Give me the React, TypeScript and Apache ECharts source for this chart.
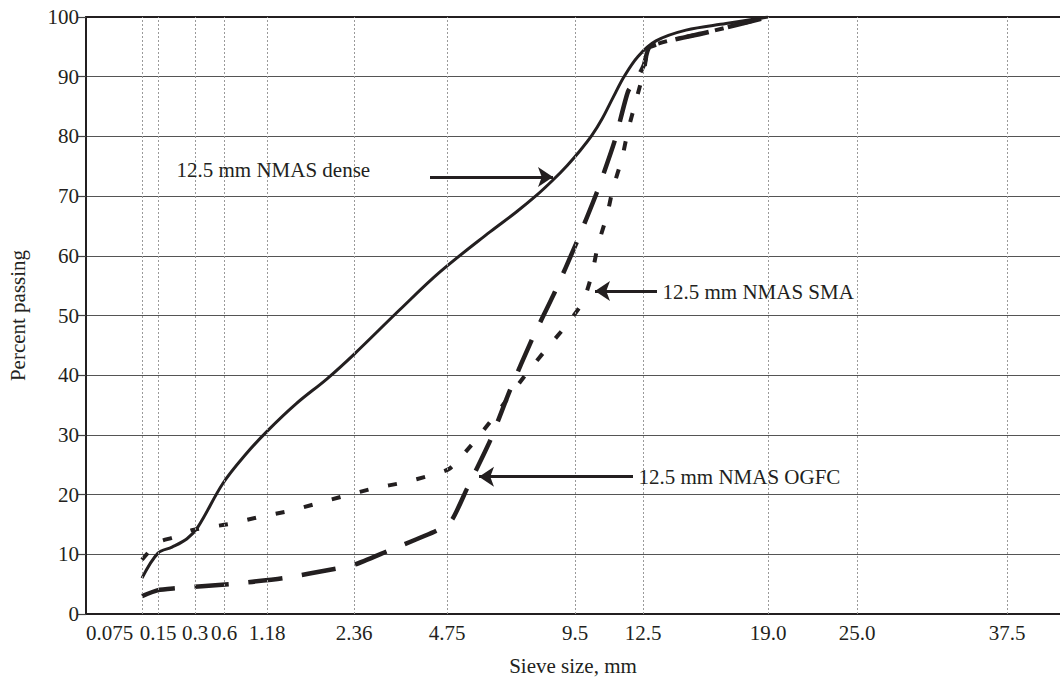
import React, { useEffect, useRef } from "react";
import * as echarts from "echarts";

// Sieve sizes and their positions along the (hand-drawn, roughly 0.45-power) x axis
const sieveLabels = ["0.075", "0.15", "0.3", "0.6", "1.18", "2.36", "4.75", "9.5", "12.5", "19.0", "25.0", "37.5"];
const sievePositions = [56, 72, 109, 138, 181, 268, 361, 489, 557, 682, 771, 921];
const labelPositions = [23.5, 72, 109, 138, 181, 268, 361, 489, 557, 682, 771, 921];
const yTicks = [0, 10, 20, 30, 40, 50, 60, 70, 80, 90, 100];

// Gradation curves: [x position, percent passing]
const denseCurve = [
  [56, 6], [72, 10.2], [86, 11.2], [101, 12.6], [112, 14.6], [137, 21.9], [160, 26.8], [181, 30.6],
  [210, 35.2], [241, 39.4], [268, 43.5], [314, 51], [354, 57.3], [404, 64], [430, 67.3], [451, 70.2],
  [467, 72.7], [481, 75.1], [494, 77.6], [506, 80.2], [516, 82.9], [527, 86.5], [538, 90], [552, 93.4],
  [570, 96], [600, 97.8], [640, 98.9], [682, 100],
];
const smaCurve = [
  [56, 9.1], [72, 12], [87, 12.8], [107, 14.1], [144, 15.1], [172, 16.2], [202, 17.2], [231, 18.5],
  [259, 19.8], [289, 21.1], [317, 22], [344, 23.2], [364, 24.4], [389, 29], [407, 32.8],
  [442, 40.6], [461, 44.5], [479, 48.1], [497, 52.3], [506, 57], [512, 61.8], [521, 66.8], [527, 71.3],
  [536, 76.3], [542, 81], [550, 86], [558, 91], [564, 95], [623, 97.5], [682, 100],
];
const ogfcCurve = [
  [56, 3], [72, 4], [89, 4.3], [143, 5], [197, 6], [250, 7.6], [269, 8.3], [301, 10.5], [351, 14],
  [366, 15.8], [381, 21], [404, 29], [424, 37.5], [446, 46], [469, 54], [490, 62], [511, 70.7],
  [529, 79.4], [542, 87.5], [552, 90], [558, 92], [564, 95], [623, 97.5], [682, 100],
];

// Annotations
const annotationTexts = ["12.5 mm NMAS dense", "12.5 mm NMAS SMA", "12.5 mm NMAS OGFC"];
const annotationTextAt = [[90, 74.3], [576, 54.0], [552, 23.0]];
const arrowFrom = [[344, 73.2], [571, 54.1], [547, 23.0]];
const arrowTo = [[467, 73.2], [509, 54.1], [393, 23.0]];

const INK = "#231f20";
const FONT = "'Liberation Serif', 'Times New Roman', serif";

export default function App() {
  const ref = useRef<HTMLDivElement>(null);

  useEffect(() => {
    if (!ref.current) return;
    const chart = echarts.init(ref.current, null, { renderer: "svg" });

    const option: any = {
      animation: false,
      backgroundColor: "#ffffff",
      textStyle: { fontFamily: FONT, color: INK },
      grid: { left: 86, right: 0, top: 17, bottom: 64, containLabel: false, outerBoundsMode: "none" },
      xAxis: [
        {
          type: "value",
          min: 0,
          max: 974,
          name: "Sieve size, mm",
          nameLocation: "middle",
          nameGap: 41,
          nameMoveOverlap: false,
          nameTextStyle: { fontFamily: FONT, fontSize: 21, color: INK },
          axisLine: { show: true, onZero: false, lineStyle: { color: INK, width: 2 } },
          axisTick: { show: false },
          splitLine: { show: false },
          axisLabel: {
            customValues: labelPositions,
            interval: 0,
            hideOverlap: false,
            margin: 8,
            fontFamily: FONT,
            fontSize: 21,
            color: INK,
            formatter: (v: number) => {
              const i = labelPositions.findIndex((p) => Math.abs(p - v) < 0.01);
              return i >= 0 ? sieveLabels[i] : "";
            },
          },
        },
        {
          type: "value",
          position: "top",
          min: 0,
          max: 974,
          axisLine: { show: true, onZero: false, lineStyle: { color: INK, width: 2 } },
          axisTick: { show: false },
          axisLabel: { show: false },
          splitLine: { show: false },
        },
      ],
      yAxis: {
        type: "value",
        min: 0,
        max: 100,
        interval: 10,
        name: "Percent passing",
        nameLocation: "middle",
        nameGap: 58,
        nameMoveOverlap: false,
        nameTextStyle: { fontFamily: FONT, fontSize: 21, color: INK },
        axisLine: { show: true, lineStyle: { color: INK, width: 2 } },
        axisTick: { show: true, inside: false, length: 8, lineStyle: { color: "#444", width: 1.2 } },
        axisLabel: {
          customValues: yTicks,
          margin: 7,
          fontFamily: FONT,
          fontSize: 21,
          color: INK,
        },
        splitLine: { show: true, lineStyle: { color: "#555", width: 1.2 } },
      },
      series: [
        {
          name: "grid",
          type: "line",
          data: [],
          z: 1,
          silent: true,
          markLine: {
            silent: true,
            symbol: ["none", "none"],
            label: { show: false },
            lineStyle: { color: "#9a9a9a", width: 1, type: [2, 2] },
            emphasis: { disabled: true },
            data: sievePositions.map((p) => ({ xAxis: p })),
          },
        },
        {
          name: "12.5 mm NMAS dense",
          type: "line",
          data: denseCurve,
          z: 3,
          smooth: 0.35,
          showSymbol: false,
          symbol: "none",
          lineStyle: { color: INK, width: 3 },
        },
        {
          name: "12.5 mm NMAS SMA",
          type: "line",
          data: smaCurve,
          z: 3,
          smooth: 0.2,
          showSymbol: false,
          symbol: "none",
          lineStyle: { color: INK, width: 4, type: [9, 20], cap: "butt" },
        },
        {
          name: "12.5 mm NMAS OGFC",
          type: "line",
          data: ogfcCurve,
          z: 4,
          smooth: 0.2,
          showSymbol: false,
          symbol: "none",
          lineStyle: { color: INK, width: 4.5, type: [34, 20], cap: "butt" },
        },
        {
          name: "annotations",
          type: "line",
          data: [],
          z: 5,
          silent: true,
          markLine: {
            silent: true,
            symbol: ["none", "arrow"],
            symbolSize: 15,
            label: { show: false },
            emphasis: { disabled: true },
            lineStyle: { color: INK, width: 2.8, type: "solid" },
            data: arrowFrom.map((f, i) => [
              { coord: f, symbol: "none" },
              { coord: arrowTo[i], symbol: "arrow", symbolSize: 15 },
            ]),
          },
          markPoint: {
            silent: true,
            symbol: "circle",
            symbolSize: 1,
            itemStyle: { color: "rgba(0,0,0,0)" },
            emphasis: { disabled: true },
            label: {
              show: true,
              position: "right",
              distance: 0,
              fontFamily: FONT,
              fontSize: 21,
              color: INK,
            },
            data: annotationTexts.map((t, i) => ({
              coord: annotationTextAt[i],
              value: t,
              label: { formatter: t },
            })),
          },
        },
      ],
    };

    chart.setOption(option);
    return () => chart.dispose();
  }, []);

  return (
    <div
      ref={ref}
      style={{ position: "fixed", left: 0, top: 0, width: 1060, height: 678, background: "#fff" }}
    />
  );
}
